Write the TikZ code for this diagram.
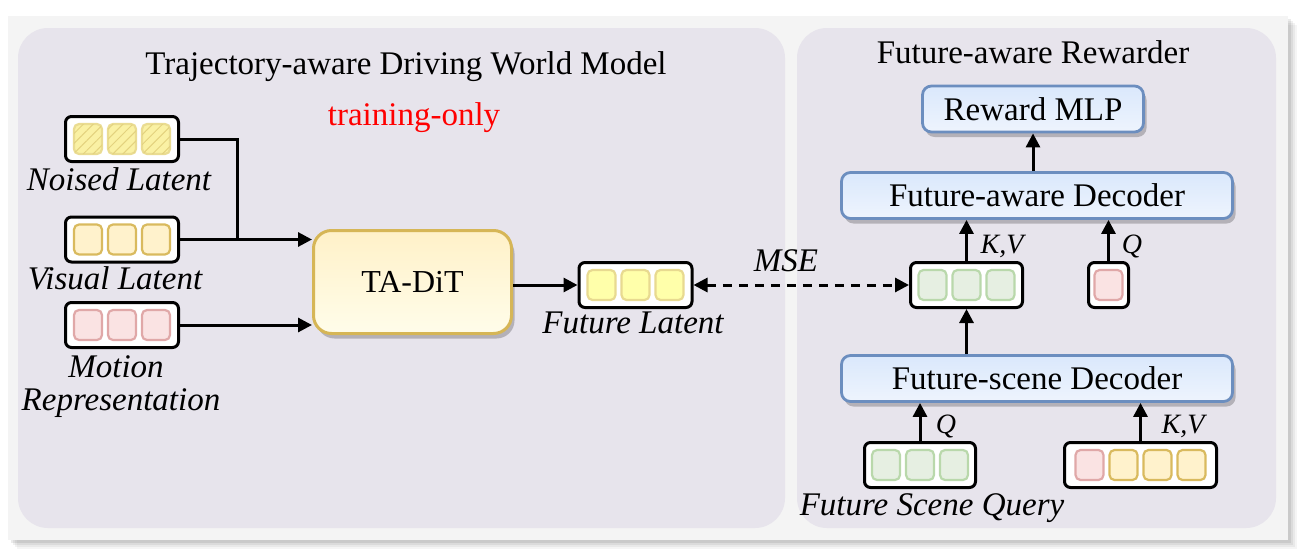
\documentclass[tikz,border=0pt]{standalone}
\usepackage{fontspec}
\setmainfont{Liberation Serif}
\usetikzlibrary{arrows.meta,shadows,patterns.meta,calc}
\definecolor{panelc}{HTML}{E7E4EC}
\definecolor{outerc}{HTML}{F4F4F4}
\definecolor{nlfill}{HTML}{FAF1A4}
\definecolor{nlhatch}{HTML}{E3D27E}
\definecolor{nldraw}{HTML}{EADC92}
\definecolor{vlfill}{HTML}{FFF2CC}
\definecolor{vldraw}{HTML}{D9BA5E}
\definecolor{mrfill}{HTML}{FAE3E3}
\definecolor{mrdraw}{HTML}{E0A8A8}
\definecolor{flfill}{HTML}{FFFFAA}
\definecolor{fldraw}{HTML}{E8DA90}
\definecolor{grfill}{HTML}{E6EFE2}
\definecolor{grdraw}{HTML}{B9D8AB}
\definecolor{blued}{HTML}{6C8EBF}
\definecolor{bluet}{HTML}{DAE8FC}
\definecolor{blueb}{HTML}{EEF4FD}
\definecolor{tadraw}{HTML}{D6B656}
\definecolor{tatop}{HTML}{FFF1C8}
\definecolor{tabot}{HTML}{FFFDEA}
\tikzset{
  bigfont/.style={font=\fontsize{33}{40}\selectfont},
  itlab/.style={font=\fontsize{33}{40}\selectfont\itshape, anchor=base, inner sep=0},
  smlab/.style={font=\fontsize{28}{34}\selectfont\itshape, anchor=base, inner sep=0},
  tokbox/.style={draw=black, line width=3pt, rounded corners=6pt, fill=white, minimum height=45pt, inner sep=0},
  cellbox/.style={draw, line width=2.2pt, rounded corners=5pt, minimum width=28pt, minimum height=30pt, inner sep=0},
  bluebox/.style={draw=blued, line width=2.8pt, rounded corners=9pt, top color=bluet, bottom color=blueb, inner sep=0, minimum height=46pt, bigfont,
    drop shadow={shadow xshift=3pt, shadow yshift=-5pt, opacity=0.22, fill=black}},
  arr/.style={line width=3pt, -{Triangle[length=14pt,width=14pt]}},
}
\newcommand{\threecells}[3]{%
  \node[cellbox, fill=#2, draw=#3] at ($(#1)+(-34,0)$) {};
  \node[cellbox, fill=#2, draw=#3] at (#1) {};
  \node[cellbox, fill=#2, draw=#3] at ($(#1)+(34,0)$) {};
}
\begin{document}
\begin{tikzpicture}[x=1pt,y=-1pt]
\useasboundingbox (0,0) rectangle (1309,554);
% outer shadow
\foreach \o/\op in {9/0.04,7/0.05,5/0.06,3/0.08}{
  \fill[black, opacity=\op] (8+\o,16+\o) rectangle (1288+\o,540+\o);
}
\fill[outerc] (8,16) rectangle (1288,540);
% panels
\fill[panelc, rounded corners=30pt] (18,28) rectangle (785,528);
\fill[panelc, rounded corners=30pt] (797,28) rectangle (1276,528);
% titles
\node[bigfont, anchor=base, inner sep=0] (t1) at (406,74) {Trajectory-aware Driving World Model};
\node[bigfont, anchor=base, inner sep=0, text=red] (t2) at (414,125) {training-only};
\node[bigfont, anchor=base, inner sep=0] (t3) at (1033,63) {Future-aware Rewarder};
% left token boxes
\node[tokbox, minimum width=113pt] (nl) at (122,139) {};
\node[tokbox, minimum width=113pt] (vl) at (122,239.5) {};
\node[tokbox, minimum width=113pt] (mr) at (122,325) {};
\foreach \dx in {-34,0,34}{
  \node[cellbox, fill=nlfill, draw=nldraw,
    postaction={pattern={Lines[angle=45,distance=7pt,line width=1pt]}, pattern color=nlhatch}]
    at ($(nl.center)+(\dx,0)$) {};
}
\threecells{vl.center}{vlfill}{vldraw}
\threecells{mr.center}{mrfill}{mrdraw}
\node[itlab] (nlt) at (119,190) {Noised Latent};
\node[itlab] (vlt) at (115,289) {Visual Latent};
\node[itlab] (mrt1) at (116,377) {Motion};
\node[itlab] (mrt2) at (121,410) {Representation};
% TA-DiT
\node[draw=tadraw, line width=3pt, rounded corners=18pt, top color=tatop, bottom color=tabot,
  minimum width=198pt, minimum height=103pt, inner sep=0,
  drop shadow={shadow xshift=3pt, shadow yshift=-5pt, opacity=0.22, fill=black},
  font=\fontsize{32}{38}\selectfont] (ta) at (412.5,282) {TA-DiT};
% Future latent
\node[tokbox, minimum width=113pt] (fl) at (635.5,285) {};
\threecells{fl.center}{flfill}{fldraw}
\node[itlab] (flt) at (633,333) {Future Latent};
% arrows left
\coordinate (j) at (237,239.5);
\draw[line width=3pt] (nl.east) -| (j);
\draw[arr] (vl.east) -- (ta.west |- vl.east);
\draw[arr] (mr.east) -- (ta.west |- mr.east);
\draw[arr] (ta.east |- fl.west) -- (fl.west);
% right side
\node[bluebox, minimum width=221pt] (rm) at (1033,109) {Reward MLP};
\node[bluebox, minimum width=391pt] (fad) at (1037,195.5) {Future-aware Decoder};
\node[bluebox, minimum width=391pt] (fsd) at (1037,378.5) {Future-scene Decoder};
\node[tokbox, minimum width=112pt] (kv) at (966.5,285) {};
\threecells{kv.center}{grfill}{grdraw}
\node[tokbox, minimum width=40pt] (ps) at (1108.5,285) {};
\node[cellbox, fill=mrfill, draw=mrdraw] at (ps.center) {};
\node[tokbox, minimum width=111pt] (fsq) at (920,465) {};
\threecells{fsq.center}{grfill}{grdraw}
\node[tokbox, minimum width=152pt] (four) at (1140.5,465) {};
\node[cellbox, fill=mrfill, draw=mrdraw] at ($(four.center)+(-51,0)$) {};
\node[cellbox, fill=vlfill, draw=vldraw] at ($(four.center)+(-17,0)$) {};
\node[cellbox, fill=vlfill, draw=vldraw] at ($(four.center)+(17,0)$) {};
\node[cellbox, fill=vlfill, draw=vldraw] at ($(four.center)+(51,0)$) {};
\node[itlab] (fsqt) at (932,515) {Future Scene Query};
% right arrows
\draw[arr] (rm.south |- fad.north) -- (rm.south);
\draw[arr] (kv.north) -- (kv.north |- fad.south);
\draw[arr] (ps.north) -- (ps.north |- fad.south);
\draw[arr] (kv.south |- fsd.north) -- (kv.south);
\draw[arr] (fsq.north) -- (fsq.north |- fsd.south);
\draw[arr] (four.north) -- (four.north |- fsd.south);
\node[smlab] (kv1) at (1002,253) {K,V};
\node[smlab] (q1) at (1132,253) {Q};
\node[smlab] (q2) at (946,433) {Q};
\node[smlab] (kv2) at (1183,433) {K,V};
% MSE
\draw[line width=3pt, dash pattern=on 9pt off 7pt, {Triangle[length=14pt,width=14pt]}-{Triangle[length=14pt,width=14pt]}] (fl.east) -- (kv.west);
\node[itlab] (mse) at (786,271) {MSE};
\end{tikzpicture}
\end{document}
